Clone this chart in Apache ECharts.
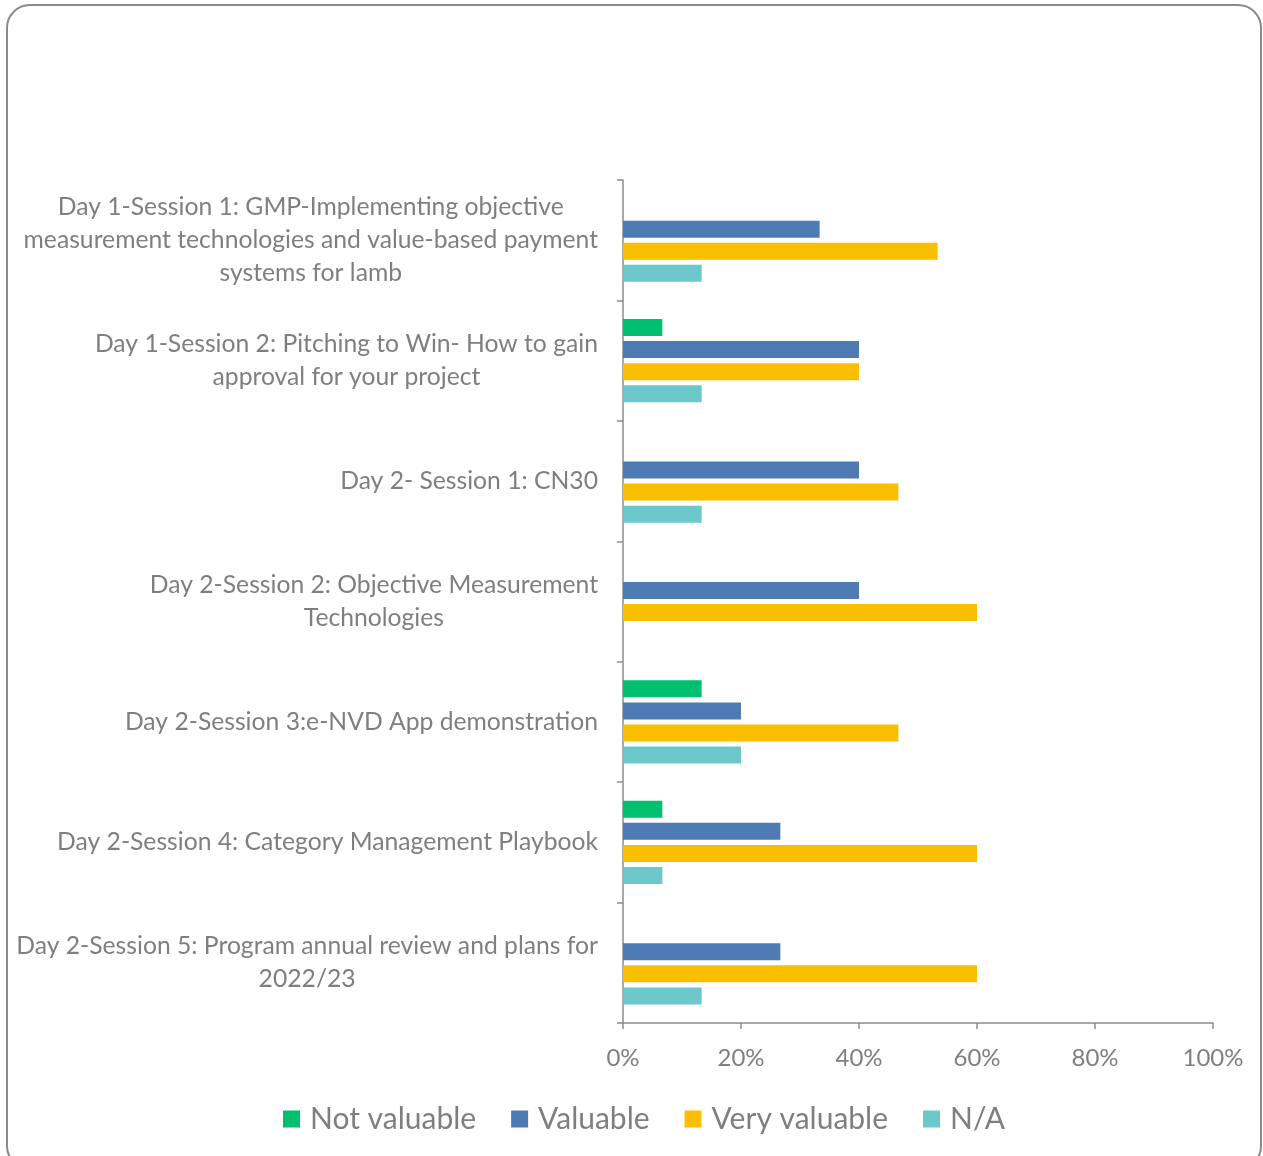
<!DOCTYPE html>
<html>
<head>
<meta charset="utf-8">
<script src="https://cdn.jsdelivr.net/npm/echarts@6/dist/echarts.min.js"></script>
<style>
  html, body { margin: 0; padding: 0; background: #ffffff; }
  #frame { position: absolute; left: 6px; top: 4px; width: 1256px; height: 1166px; box-sizing: border-box;
           border: 2px solid #8a8a8a; border-radius: 24px; }
  #chart { position: absolute; left: 0; top: 0; width: 1263px; height: 1156px; }
</style>
</head>
<body>
<div id="frame"></div>
<div id="chart"></div>
<script>
const categories = [
  'Day 1-Session 1: GMP-Implementing objective\nmeasurement technologies and value-based payment\nsystems for lamb',
  'Day 1-Session 2: Pitching to Win- How to gain\napproval for your project',
  'Day 2- Session 1: CN30',
  'Day 2-Session 2: Objective Measurement\nTechnologies',
  'Day 2-Session 3:e-NVD App demonstration',
  'Day 2-Session 4: Category Management Playbook',
  'Day 2-Session 5: Program annual review and plans for\n2022/23'
];
const seriesNames = ['Not valuable', 'Valuable', 'Very valuable', 'N/A'];
const notValuable  = [0, 6.67, 0, 0, 13.33, 6.67, 0];
const valuable     = [33.33, 40, 40, 40, 20, 26.67, 26.67];
const veryValuable = [53.33, 40, 46.67, 60, 46.67, 60, 60];
const notApplicable = [13.33, 13.33, 13.33, 0, 20, 6.67, 13.33];
const xTicks = [0, 20, 40, 60, 80, 100];

const colors = ['#00bf6f', '#4f7bb5', '#f9bf00', '#6cc8ca'];
const textColor = '#7f7f7f';
const fontFamily = 'Lato, sans-serif';
const seriesData = [notValuable, valuable, veryValuable, notApplicable];

const chart = echarts.init(document.getElementById('chart'), null, { renderer: 'canvas' });
chart.setOption({
  animation: false,
  backgroundColor: 'transparent',
  textStyle: { fontFamily: fontFamily },
  grid: { left: 623, right: 50, top: 180, bottom: 133, containLabel: false },
  legend: {
    data: seriesNames,
    left: 283,
    top: 1104,
    padding: 0,
    itemWidth: 17,
    itemHeight: 17,
    itemGap: 35,
    icon: 'rect',
    textStyle: { color: textColor, fontSize: 30, fontFamily: fontFamily, padding: [0, 0, 0, 5] }
  },
  xAxis: {
    type: 'value',
    min: xTicks[0],
    max: xTicks[xTicks.length - 1],
    interval: 20,
    axisLine: { show: true, lineStyle: { color: '#8c8c8c', width: 1.5 } },
    axisTick: { show: true, length: 6, lineStyle: { color: '#8c8c8c', width: 1.5 } },
    splitLine: { show: false },
    axisLabel: { color: textColor, fontSize: 24, margin: 23, formatter: '{value}%', fontFamily: fontFamily }
  },
  yAxis: {
    type: 'category',
    inverse: true,
    data: categories,
    axisLine: { show: true, lineStyle: { color: '#8c8c8c', width: 1.5 } },
    axisTick: { show: true, length: 6, lineStyle: { color: '#8c8c8c', width: 1.5 } },
    axisLabel: {
      margin: 25,
      color: textColor,
      formatter: function (v) {
        return v.split('\n').map(function (l) { return '{c|' + l + '}'; }).join('\n');
      },
      rich: {
        c: { align: 'center', fontSize: 24.7, lineHeight: 33, color: textColor, fontFamily: fontFamily }
      }
    }
  },
  series: seriesNames.map(function (name, i) {
    return {
      name: name,
      type: 'bar',
      data: seriesData[i],
      barWidth: 17,
      barGap: '30%',
      itemStyle: { color: colors[i] }
    };
  })
});
</script>
</body>
</html>
